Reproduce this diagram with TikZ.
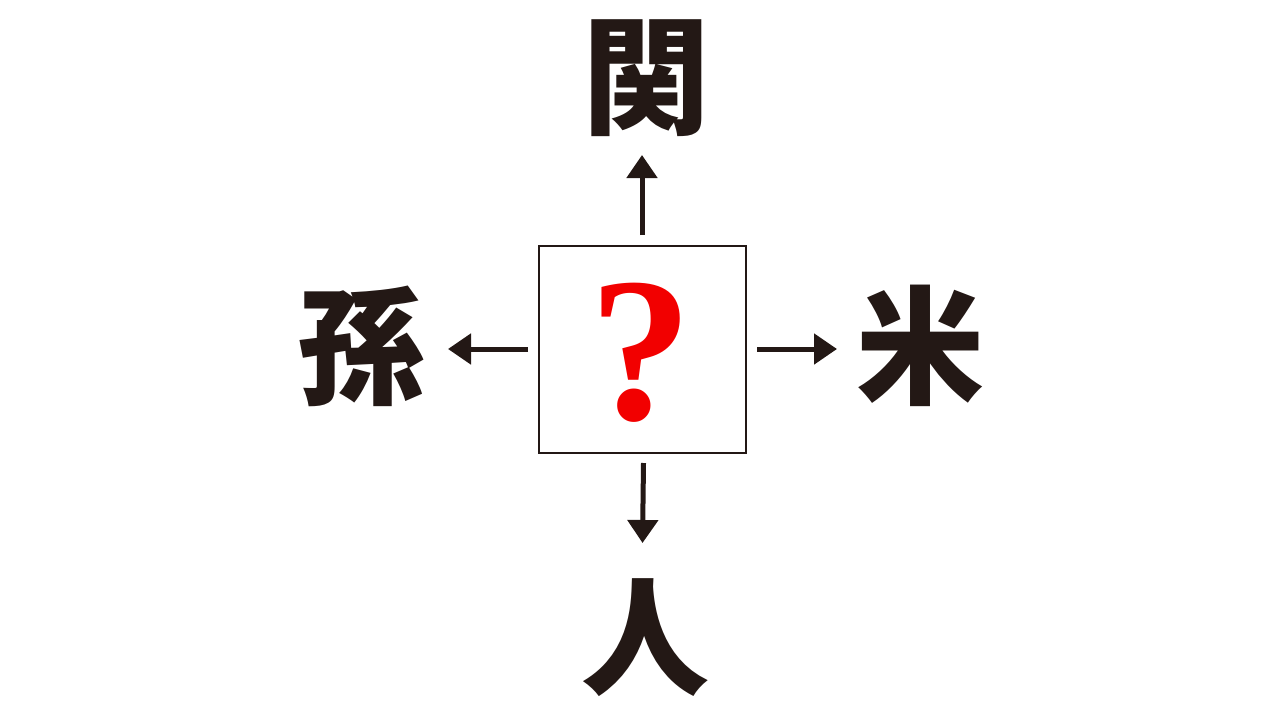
\documentclass[tikz,border=0pt]{standalone}
\usepackage{fontspec}
\setmainfont{Liberation Serif}
\newfontfamily\cjk{Noto Sans CJK JP}
\usetikzlibrary{arrows.meta}
\definecolor{ink}{HTML}{231815}
\definecolor{qred}{HTML}{F20000}
\tikzset{
  kanji/.style={inner sep=0pt, text=ink, font=\cjk\bfseries\fontsize{128}{128}\selectfont},
  qbox/.style={draw=ink, line width=2.6pt, minimum width=207pt, minimum height=207pt, inner sep=0pt},
  arr/.style={draw=ink, line width=5pt, -{Triangle[length=23pt,width=30pt]}}
}
\begin{document}
\begin{tikzpicture}[x=1pt,y=-1pt]
\useasboundingbox (0,0) rectangle (1280,720);
\node[qbox] (q) at (642.5,349.5) {};
\node[inner sep=0pt, text=qred, font=\bfseries\fontsize{206}{206}\selectfont] (qm) at (641,353) {?};
\node[kanji] (up) at (646,78) {関};
\node[kanji] (lt) at (361,346) {孫};
\node[kanji] (rt) at (920,346) {米};
\node[kanji] (dn) at (645,638) {人};
\coordinate (upA) at (642,235);
\coordinate (upB) at (642,155);
\coordinate (ltA) at (528,349);
\coordinate (ltB) at (448,349);
\coordinate (rtA) at (757,349);
\coordinate (rtB) at (837,349);
\coordinate (dnA) at (643.5,463);
\coordinate (dnB) at (642.5,543);
\draw[arr] (upA) -- (upB);
\draw[arr] (ltA) -- (ltB);
\draw[arr] (rtA) -- (rtB);
\draw[arr] (dnA) -- (dnB);
\end{tikzpicture}
\end{document}
